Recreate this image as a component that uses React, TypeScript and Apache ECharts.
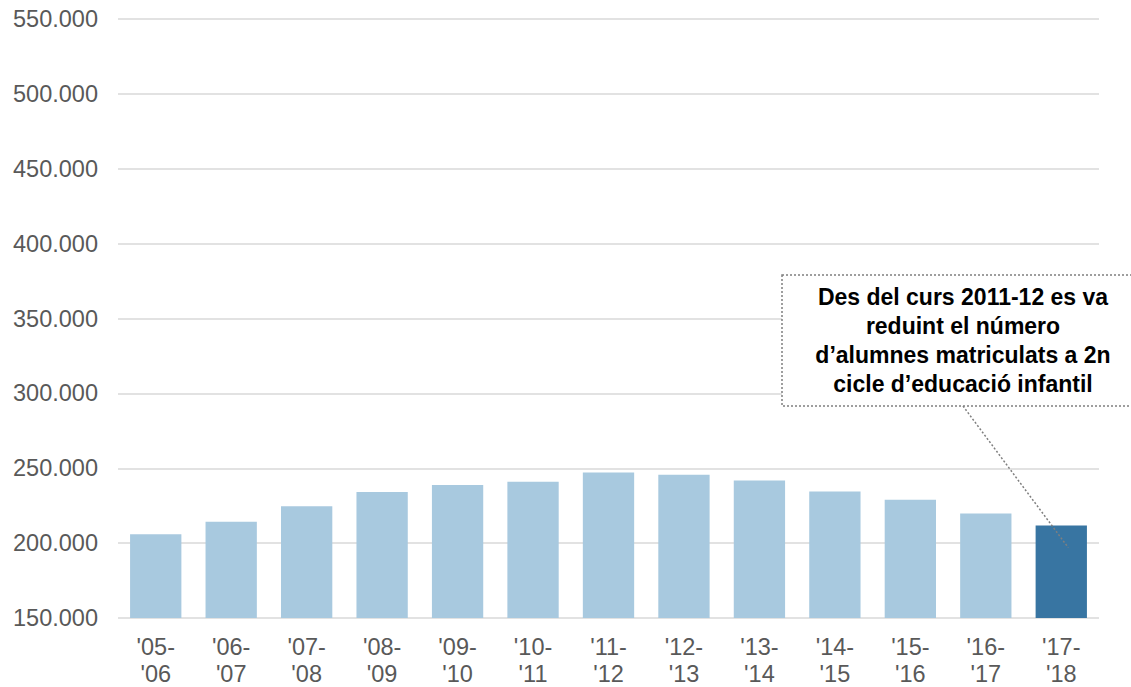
import React, { useEffect, useRef } from "react";
import * as echarts from "echarts";

const categories = ["'05-\n'06", "'06-\n'07", "'07-\n'08", "'08-\n'09", "'09-\n'10", "'10-\n'11", "'11-\n'12", "'12-\n'13", "'13-\n'14", "'14-\n'15", "'15-\n'16", "'16-\n'17", "'17-\n'18"];
const students = [206000, 214200, 224600, 234200, 238800, 241000, 247200, 245700, 241900, 234400, 228900, 219800, 211800];
const highlightIndex = 12;
const annotationLines = [
  "Des del curs 2011-12 es va",
  "reduint el número",
  "d’alumnes matriculats a 2n",
  "cicle d’educació infantil",
];
const yTicks = { min: 150000, max: 550000, interval: 50000 };

const FONT = "'Liberation Sans', Arial, sans-serif";
const LIGHT = "#a8c9df";
const DARK = "#3875a2";

function fmt(v: number): string {
  return String(v).replace(/\B(?=(\d{3})+(?!\d))/g, ".");
}

export default function App() {
  const ref = useRef<HTMLDivElement>(null);
  useEffect(() => {
    if (!ref.current) return;
    const chart = echarts.init(ref.current, undefined, { renderer: "svg" });
    chart.setOption({
      animation: false,
      grid: { left: 118, right: 32, top: 19, bottom: 63, containLabel: false },
      xAxis: {
        type: "category",
        data: categories,
        axisLine: { show: false },
        axisTick: { show: false },
        axisLabel: {
          color: "#595959",
          fontSize: 23.5,
          fontFamily: FONT,
          lineHeight: 27,
          margin: 15,
          interval: 0,
        },
      },
      yAxis: {
        type: "value",
        min: yTicks.min,
        max: yTicks.max,
        interval: yTicks.interval,
        axisLine: { show: false },
        axisTick: { show: false },
        splitLine: { lineStyle: { color: "#d9d9d9", width: 1.5 } },
        axisLabel: {
          color: "#595959",
          fontSize: 23.5,
          fontFamily: FONT,
          margin: 20,
          formatter: (v: number) => fmt(v),
        },
      },
      series: [
        {
          type: "bar",
          barCategoryGap: "32%",
          data: students.map((v, i) => ({
            value: v,
            itemStyle: { color: i === highlightIndex ? DARK : LIGHT },
          })),
        },
      ],
    });
    const end = chart.convertToPixel({ seriesIndex: 0 }, [highlightIndex, 197000]) as number[];
    const boxLeft = 782, boxTop = 275, boxBottom = 406;
    const textX = 963;
    chart.setOption({
      graphic: [
        {
          type: "line",
          shape: { x1: textX, y1: boxBottom, x2: end[0] + 7, y2: end[1] },
          style: { stroke: "#7f7f7f", lineWidth: 1.5, lineDash: [2, 2] },
          z: 10,
        },
        {
          type: "rect",
          shape: { x: boxLeft, y: boxTop, width: 1140 - boxLeft, height: boxBottom - boxTop },
          style: { fill: "#ffffff", stroke: "#7f7f7f", lineWidth: 1.5, lineDash: [2, 2] },
          z: 11,
        },
        {
          type: "text",
          x: textX,
          y: (boxTop + boxBottom) / 2,
          style: {
            text: annotationLines.join("\n"),
            fontSize: 23,
            fontWeight: "bold",
            fontFamily: FONT,
            fill: "#000000",
            align: "center",
            verticalAlign: "middle",
            lineHeight: 29,
          },
          z: 12,
        },
      ],
    });
    return () => chart.dispose();
  }, []);
  return (
    <div
      ref={ref}
      style={{ position: "fixed", left: 0, top: 0, width: 1131, height: 687, background: "#fff" }}
    />
  );
}
